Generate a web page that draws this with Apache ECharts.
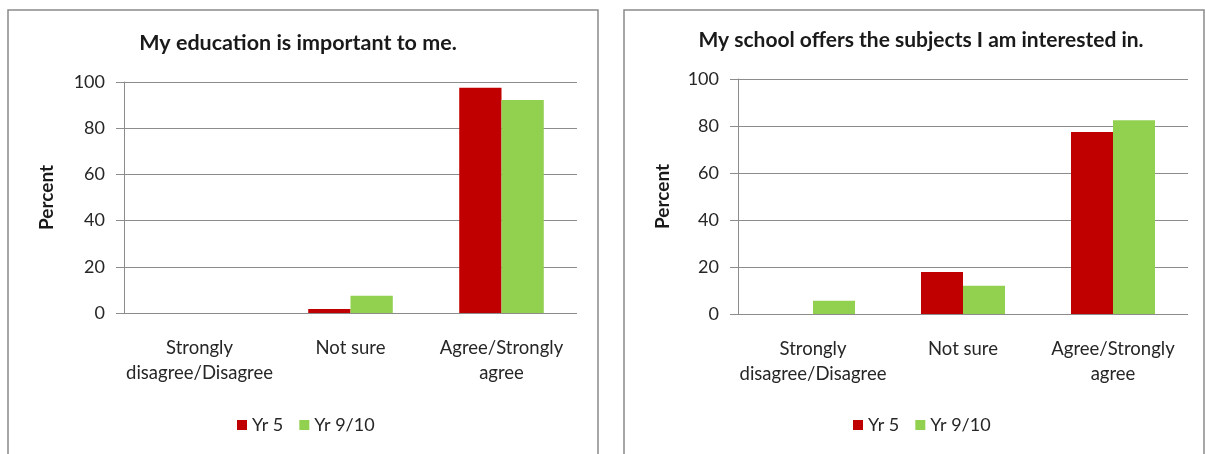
<!DOCTYPE html>
<html>
<head>
<meta charset="utf-8">
<script src="https://cdn.jsdelivr.net/npm/echarts@6/dist/echarts.min.js"></script>
<style>
html,body{margin:0;padding:0;background:#fff;}
#chart{width:1205px;height:454px;}
</style>
</head>
<body>
<div id="chart"></div>
<script>
const categories = ['Strongly\ndisagree/Disagree', 'Not sure', 'Agree/Strongly\nagree'];
const seriesNames = ['Yr 5', 'Yr 9/10'];
const titles = ['My education is important to me.', 'My school offers the subjects I am interested in.'];
const yTicks = [0, 20, 40, 60, 80, 100];
const eduYr5 = [0, 1.7, 97.5];
const eduYr910 = [0, 7.5, 92.2];
const schoolYr5 = [0, 17.9, 77.5];
const schoolYr910 = [5.6, 12, 82.5];

const FONT = 'Lato';
const RED = '#C00000';
const GREEN = '#92D050';
const GRIDC = '#8c8c8c';

const chart = echarts.init(document.getElementById('chart'), null, {renderer: 'canvas'});

function xAxis(gi) {
  return {
    type: 'category', gridIndex: gi, data: categories,
    axisLine: {show: false}, axisTick: {show: false},
    axisLabel: {color: '#262626', fontFamily: FONT, fontSize: 18.5, margin: 23, lineHeight: 25, interval: 0}
  };
}
function yAxis(gi, gap) {
  return {
    type: 'value', gridIndex: gi, min: yTicks[0], max: yTicks[yTicks.length - 1], interval: 20,
    name: 'Percent', nameLocation: 'middle', nameRotate: 90, nameGap: gap,
    nameTextStyle: {fontFamily: FONT, fontWeight: 'bold', fontSize: 19, color: '#1a1a1a'},
    axisLine: {show: true, lineStyle: {color: GRIDC, width: 1}},
    axisTick: {show: true, length: 8, lineStyle: {color: GRIDC}},
    axisLabel: {color: '#262626', fontFamily: FONT, fontSize: 18, margin: 19},
    splitLine: {show: true, lineStyle: {color: GRIDC, width: 1}}
  };
}
function bar(name, data, color, idx) {
  return {
    type: 'bar', name: name, data: data, xAxisIndex: idx, yAxisIndex: idx,
    barGap: '0%', barCategoryGap: '44%', itemStyle: {color: color}, silent: true
  };
}

chart.setOption({
  animation: false,
  backgroundColor: '#fff',
  graphic: [
    {type: 'rect', shape: {x: 8, y: 10, width: 590, height: 460}, style: {fill: 'none', stroke: '#8a8a8a', lineWidth: 1.5}, z: -1},
    {type: 'rect', shape: {x: 624, y: 10, width: 580, height: 460}, style: {fill: 'none', stroke: '#8a8a8a', lineWidth: 1.5}, z: -1}
  ],
  title: [
    {text: titles[0], left: 298, top: 32, textAlign: 'center', padding: 0,
     textStyle: {fontFamily: FONT, fontWeight: 'bold', fontSize: 21.5, color: '#1a1a1a'}},
    {text: titles[1], left: 921, top: 30, textAlign: 'center', padding: 0,
     textStyle: {fontFamily: FONT, fontWeight: 'bold', fontSize: 21, color: '#1a1a1a'}}
  ],
  legend: [
    {data: seriesNames, left: 237, top: 416, padding: 0, itemWidth: 10, itemHeight: 10, itemGap: 16,
     icon: 'rect', textStyle: {fontFamily: FONT, fontSize: 18, color: '#262626'}, selectedMode: false},
    {data: seriesNames, left: 853, top: 416, padding: 0, itemWidth: 10, itemHeight: 10, itemGap: 16,
     icon: 'rect', textStyle: {fontFamily: FONT, fontSize: 18, color: '#262626'}, selectedMode: false}
  ],
  grid: [
    {left: 124, right: 1205 - 577, top: 82, bottom: 454 - 313},
    {left: 738, right: 1205 - 1188, top: 79, bottom: 454 - 314}
  ],
  xAxis: [xAxis(0), xAxis(1)],
  yAxis: [yAxis(0, 68), yAxis(1, 66)],
  series: [
    bar(seriesNames[0], eduYr5, RED, 0),
    bar(seriesNames[1], eduYr910, GREEN, 0),
    bar(seriesNames[0], schoolYr5, RED, 1),
    bar(seriesNames[1], schoolYr910, GREEN, 1)
  ]
});
</script>
</body>
</html>
